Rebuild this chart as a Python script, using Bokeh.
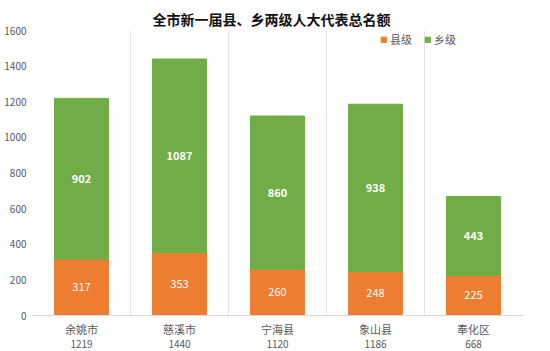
from bokeh.plotting import figure
from bokeh.models import ColumnDataSource, FixedTicker, Legend, LegendItem, LinearAxis
from bokeh.core.properties import value
from bokeh.embed import file_html
from bokeh.resources import INLINE

categories = ["余姚市", "慈溪市", "宁海县", "象山县", "奉化区"]
totals = [1219, 1440, 1120, 1186, 668]
county = [317, 353, 260, 248, 225]
township = [902, 1087, 860, 938, 443]
y_ticks = [0, 200, 400, 600, 800, 1000, 1200, 1400, 1600]

FONT = "Noto Sans CJK SC"
ORANGE = "#ED7D31"
GREEN = "#70AD47"
GRAY = "#595959"

xs = list(range(1, len(categories) + 1))
src = ColumnDataSource(dict(
    x=xs,
    county=county,
    township=township,
    top=[c + t for c, t in zip(county, township)],
    county_mid=[c / 2 for c in county],
    town_mid=[c + t / 2 for c, t in zip(county, township)],
    county_txt=[str(c) for c in county],
    town_txt=[str(t) for t in township],
))

p = figure(width=550, height=351, output_backend="svg", toolbar_location=None,
           x_range=(0.5, len(categories) + 0.5), y_range=(0, 1600),
           frame_width=490, frame_height=285,
           min_border_left=32, min_border_right=28, min_border_top=30,
           min_border_bottom=10)

p.title.text = "全市新一届县、乡两级人大代表总名额"
p.title.text_font = FONT
p.title.text_font_size = "14px"
p.title.text_font_style = "bold"
p.title.text_color = "#111111"
p.title.align = "left"
p.title.offset = 120
p.title.standoff = 4

p.outline_line_color = None
p.background_fill_color = "white"
p.border_fill_color = "white"

r1 = p.vbar(x="x", bottom=0, top="county", width=0.55, color=ORANGE, source=src)
r2 = p.vbar(x="x", bottom="county", top="top", width=0.55, color=GREEN, source=src)

p.text(x="x", y="county_mid", text="county_txt", source=src, text_align="center",
       text_baseline="middle", text_color="white", text_font=value(FONT),
       text_font_size="11px")
p.text(x="x", y="town_mid", text="town_txt", source=src, text_align="center",
       text_baseline="middle", text_color="white", text_font=value(FONT),
       text_font_size="11px", text_font_style="bold")

# x axis: category names
p.xaxis.ticker = FixedTicker(ticks=xs)
p.xaxis.major_label_overrides = {x: c for x, c in zip(xs, categories)}
p.xaxis.major_label_text_font = FONT
p.xaxis.major_label_text_font_size = "11px"
p.xaxis.major_label_text_color = GRAY
p.xaxis.major_tick_line_color = None
p.xaxis.minor_tick_line_color = None
p.xaxis.major_tick_out = 0
p.xaxis.minor_tick_out = 0
p.xaxis.axis_label_standoff = 0
p.xaxis.axis_line_color = "#D9D9D9"
p.xaxis.major_label_standoff = 5

# second x axis: totals
tot_axis = LinearAxis(ticker=FixedTicker(ticks=xs),
                      major_label_overrides={x: str(t) for x, t in zip(xs, totals)},
                      major_label_text_font=FONT, major_label_text_font_size="10px",
                      major_label_text_color=GRAY, major_tick_line_color=None,
                      minor_tick_line_color=None, axis_line_color=None,
                      major_tick_out=0, minor_tick_out=0, axis_label_standoff=0,
                      major_label_standoff=0)
p.add_layout(tot_axis, "below")

p.yaxis.ticker = FixedTicker(ticks=y_ticks)
p.yaxis.major_label_text_font = FONT
p.yaxis.major_label_text_font_size = "10px"
p.yaxis.major_label_text_color = GRAY
p.yaxis.major_tick_line_color = None
p.yaxis.minor_tick_line_color = None
p.yaxis.major_tick_out = 0
p.yaxis.minor_tick_out = 0
p.yaxis.axis_line_color = None
p.yaxis.major_label_standoff = 6

p.ygrid.grid_line_color = None
p.xgrid.ticker = FixedTicker(ticks=[x - 0.5 for x in xs] + [len(xs) + 0.5])
p.xgrid.grid_line_color = "#E3E3E3"

legend = Legend(items=[LegendItem(label="县级", renderers=[r1]),
                       LegendItem(label="乡级", renderers=[r2])],
                orientation="horizontal", location=(348, 268),
                border_line_color=None, background_fill_alpha=0,
                label_text_font=FONT, label_text_font_size="11px",
                label_text_color=GRAY, glyph_width=7, glyph_height=7,
                padding=1, margin=0, spacing=12, label_standoff=3)
p.add_layout(legend)

open("out.html", "w").write(file_html(p, INLINE))
